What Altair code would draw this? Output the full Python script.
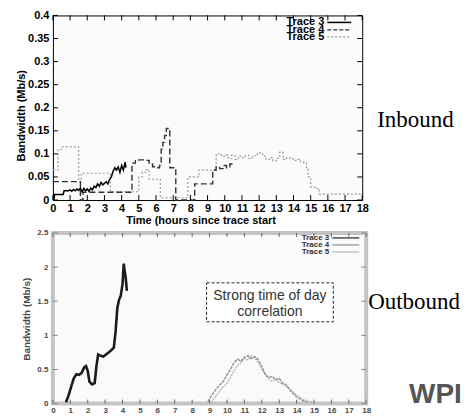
import altair as alt
import pandas as pd

# ---------------- data ----------------
hours = list(range(0, 19))
in_yticks = [0, 0.05, 0.1, 0.15, 0.2, 0.25, 0.3, 0.35, 0.4]
out_yticks = [0, 0.5, 1, 1.5, 2, 2.5]

# Inbound, Trace 3 (solid)
in3_t = [0.05, 0.1, 0.6, 0.65, 0.9, 1.0, 1.1, 1.2, 1.3, 1.4, 1.5, 1.6, 1.7, 1.8, 1.9,
         2.0, 2.1, 2.2, 2.3, 2.4, 2.5, 2.6, 2.7, 2.8, 2.9, 3.0, 3.1, 3.2, 3.3, 3.4,
         3.5, 3.6, 3.7, 3.8, 3.9, 4.0, 4.1, 4.2, 4.25]
in3_v = [0.0, 0.012, 0.012, 0.02, 0.02, 0.022, 0.019, 0.023, 0.02, 0.024, 0.021, 0.026, 0.018, 0.025, 0.02,
         0.024, 0.019, 0.026, 0.022, 0.03, 0.027, 0.035, 0.03, 0.038, 0.033, 0.036, 0.04, 0.035, 0.045, 0.05,
         0.062, 0.07, 0.065, 0.072, 0.06, 0.075, 0.065, 0.082, 0.07]

# Inbound, Trace 4 (dashed)
in4_t = [0, 1.6, 1.75, 4.6, 4.8, 5.0, 5.3, 5.6, 5.8, 6.0, 6.2, 6.3, 6.4, 6.5, 6.6, 6.7,
         6.8, 7.15, 8.25, 9.3, 9.5, 9.7, 9.9, 10.1, 10.3, 10.5]
in4_v = [0.04, 0.0, 0.017, 0.08, 0.085, 0.087, 0.086, 0.078, 0.072, 0.07, 0.075, 0.11, 0.125, 0.14, 0.155, 0.15,
         0.07, 0.0, 0.035, 0.065, 0.072, 0.068, 0.075, 0.07, 0.078, 0.075]

# Inbound, Trace 5 (dotted)
in5_t = [0, 0.3, 0.5, 1.5, 1.65, 3.35, 5.0, 5.2, 5.4, 5.6, 6.25, 7.85, 8.5, 9.5,
         9.6, 9.8, 10.0, 10.2, 10.4, 10.6, 10.8, 11.0, 11.2, 11.4, 11.6, 11.8, 12.0, 12.2,
         12.4, 12.6, 12.8, 13.0, 13.2, 13.4, 13.6, 13.8, 14.0, 14.2, 14.4, 14.6,
         14.75, 14.85, 15.0, 15.3, 15.5, 18]
in5_v = [0.065, 0.11, 0.115, 0.04, 0.058, 0.018, 0.05, 0.06, 0.066, 0.045, 0.005, 0.05, 0.065, 0.1,
         0.1, 0.095, 0.098, 0.09, 0.097, 0.088, 0.095, 0.092, 0.097, 0.09, 0.096, 0.099, 0.102, 0.095,
         0.088, 0.092, 0.085, 0.09, 0.104, 0.088, 0.092, 0.089, 0.086, 0.088, 0.083, 0.08,
         0.07, 0.05, 0.028, 0.025, 0.013, 0.013]

# Outbound, Trace 3
out3_t = [0.75, 0.9, 1.05, 1.2, 1.35, 1.5, 1.65, 1.8, 1.9, 2.0, 2.1, 2.25, 2.4, 2.5, 2.6,
          2.75, 2.9, 3.05, 3.2, 3.35, 3.5, 3.6, 3.7, 3.8, 3.9, 4.0, 4.07, 4.12, 4.18, 4.25]
out3_v = [0.02, 0.12, 0.25, 0.37, 0.43, 0.42, 0.45, 0.53, 0.55, 0.48, 0.32, 0.28, 0.3, 0.55, 0.72,
          0.7, 0.69, 0.72, 0.75, 0.78, 0.82, 1.05, 1.4, 1.52, 1.58, 1.75, 2.05, 1.95, 1.85, 1.65]

# Outbound, Trace 4
out4_t = [8.9, 9.2, 9.5, 9.8, 10.0, 10.2, 10.4, 10.6, 10.8, 11.0, 11.2, 11.4, 11.6, 11.8,
          12.0, 12.2, 12.4, 12.6, 12.8, 13.0, 13.2, 13.4, 13.6, 13.8, 14.0, 14.3, 14.6]
out4_v = [0.03, 0.15, 0.25, 0.33, 0.42, 0.5, 0.6, 0.65, 0.62, 0.68, 0.7, 0.66, 0.69, 0.64,
          0.55, 0.42, 0.38, 0.4, 0.35, 0.37, 0.3, 0.28, 0.2, 0.15, 0.1, 0.05, 0.02]

# Outbound, Trace 5
out5_t = [9.1, 9.4, 9.7, 10.0, 10.2, 10.4, 10.6, 10.8, 11.0, 11.2, 11.4, 11.6, 11.8, 12.0,
          12.2, 12.4, 12.6, 12.8, 13.0, 13.2, 13.4, 13.6, 13.8, 14.0, 14.3, 14.6, 15.0]
out5_v = [0.02, 0.12, 0.22, 0.3, 0.38, 0.48, 0.55, 0.6, 0.66, 0.64, 0.7, 0.67, 0.6, 0.5,
          0.44, 0.36, 0.33, 0.36, 0.31, 0.28, 0.25, 0.22, 0.17, 0.12, 0.07, 0.04, 0.02]

trace_labels = ["Trace 3", "Trace 4", "Trace 5"]
side_labels = ["Inbound", "Outbound"]
note_lines = ["Strong time of day", "correlation"]
x_title = "Time (hours since trace start"
y_title = "Bandwidth (Mb/s)"
logo_text = "WPI"

SANS = "Liberation Sans"
SERIF = "Liberation Serif"

W1, H1 = 310, 185
W2, H2 = 314, 171


def df(t, v):
    return pd.DataFrame({"t": t, "v": v})


def one(text):
    return pd.DataFrame({"label": [text]})


# ---------------- top (Inbound) ----------------
X1 = alt.X("t:Q", scale=alt.Scale(domain=[0, 18], nice=False, zero=False),
           axis=alt.Axis(values=hours, tickSize=0, domain=False, grid=False, format="~g",
                         labelFont=SANS, labelFontSize=11, labelFontWeight="bold",
                         labelColor="black", labelPadding=2, labelFlush=False,
                         title=x_title, titleFont=SANS, titleFontSize=11,
                         titleFontWeight="bold", titleColor="black",
                         titleX=148, titleY=21, titleBaseline="middle", titleAlign="center"))
Y1 = alt.Y("v:Q", scale=alt.Scale(domain=[0, 0.4], nice=False),
           axis=alt.Axis(values=in_yticks, tickSize=0, domain=False, grid=False, format="~g",
                         labelFont=SANS, labelFontSize=11, labelFontWeight="bold",
                         labelColor="black", labelPadding=4, labelFlush=False,
                         title=y_title, titleFont=SANS, titleFontSize=11,
                         titleFontWeight="bold", titleColor="black",
                         titleX=-31, titleY=100, titleBaseline="middle", titleAlign="center"))

top_layers = [
    alt.Chart(df(in5_t, in5_v)).mark_line(interpolate="step-after", color="#9a9a9a",
                                          strokeWidth=1.2, strokeDash=[2, 2]).encode(x=X1, y=Y1),
    alt.Chart(df(in4_t, in4_v)).mark_line(interpolate="step-after", color="#333333",
                                          strokeWidth=1.4, strokeDash=[6, 3]).encode(x=X1, y=Y1),
    alt.Chart(df(in3_t, in3_v)).mark_line(color="black", strokeWidth=1.5).encode(x=X1, y=Y1),
    # inward ticks
    alt.Chart(pd.DataFrame({"t": hours})).mark_rule(color="black").encode(
        x=X1, y=alt.value(H1), y2=alt.value(H1 - 5)),
    alt.Chart(pd.DataFrame({"t": hours})).mark_rule(color="black").encode(
        x=X1, y=alt.value(0), y2=alt.value(5)),
    alt.Chart(pd.DataFrame({"v": in_yticks})).mark_rule(color="black").encode(
        y=Y1, x=alt.value(0), x2=alt.value(5)),
    alt.Chart(pd.DataFrame({"v": in_yticks})).mark_rule(color="black").encode(
        y=Y1, x=alt.value(W1), x2=alt.value(W1 - 5)),
]

# legend (gnuplot style: label left, sample right)
leg_rows = [7, 14.5, 21.5]
leg_styles = [dict(color="black", strokeWidth=1.5),
              dict(color="#333333", strokeWidth=1.3, strokeDash=[4, 2]),
              dict(color="#9a9a9a", strokeWidth=1.2, strokeDash=[2, 2])]
for lab, yy, st in zip(trace_labels, leg_rows, leg_styles):
    top_layers.append(alt.Chart(one(lab)).mark_text(
        font=SANS, fontSize=11, fontWeight="bold", align="right", baseline="middle",
        color="black").encode(text="label:N", x=alt.value(272), y=alt.value(yy)))
    top_layers.append(alt.Chart(one(lab)).mark_rule(**st).encode(
        x=alt.value(275), x2=alt.value(299), y=alt.value(yy)))

top_layers.append(alt.Chart(one(side_labels[0])).mark_text(
    font=SERIF, fontSize=23, align="left", baseline="alphabetic", color="black").encode(
    text="label:N", x=alt.value(325), y=alt.value(112)))

top = alt.layer(*top_layers).properties(
    width=W1, height=H1,
    view=alt.ViewBackground(stroke="black", strokeWidth=1, fill="#fbfbfb"))

# ---------------- bottom (Outbound) ----------------
GRAY = "#4a4a4a"
X2 = alt.X("t:Q", scale=alt.Scale(domain=[0, 18], nice=False, zero=False),
           axis=alt.Axis(values=hours, tickSize=0, domain=False, grid=False, format="~g",
                         labelFont=SANS, labelFontSize=8, labelFontWeight="bold",
                         labelColor=GRAY, labelPadding=3, labelFlush=False,
                         title=x_title + ")", titleFont=SANS, titleFontSize=10,
                         titleFontWeight="bold", titleColor=GRAY,
                         titleX=150, titleY=17, titleBaseline="middle", titleAlign="center"))
Y2 = alt.Y("v:Q", scale=alt.Scale(domain=[0, 2.5], nice=False),
           axis=alt.Axis(values=out_yticks, tickSize=0, domain=False, grid=False, format="~g",
                         labelFont=SANS, labelFontSize=8, labelFontWeight="bold",
                         labelColor=GRAY, labelPadding=5, labelFlush=False,
                         title=y_title, titleFont=SANS, titleFontSize=10,
                         titleFontWeight="bold", titleColor=GRAY,
                         titleX=-26, titleY=86, titleBaseline="middle", titleAlign="center"))

bot_layers = [
    alt.Chart(df(out5_t, out5_v)).mark_line(color="#b5b5b5", strokeWidth=1.4,
                                            strokeDash=[2, 1]).encode(x=X2, y=Y2),
    alt.Chart(df(out4_t, out4_v)).mark_line(color="#8f8f8f", strokeWidth=1.4,
                                            strokeDash=[3, 1]).encode(x=X2, y=Y2),
    alt.Chart(df(out3_t, out3_v)).mark_line(color="#1a1a1a", strokeWidth=2.6).encode(x=X2, y=Y2),
    alt.Chart(pd.DataFrame({"t": hours})).mark_rule(color="#666666").encode(
        x=X2, y=alt.value(H2), y2=alt.value(H2 - 4)),
    alt.Chart(pd.DataFrame({"t": hours})).mark_rule(color="#666666").encode(
        x=X2, y=alt.value(0), y2=alt.value(4)),
    alt.Chart(pd.DataFrame({"v": out_yticks})).mark_rule(color="#888888").encode(
        y=Y2, x=alt.value(0), x2=alt.value(5)),
    alt.Chart(pd.DataFrame({"v": out_yticks})).mark_rule(color="#888888").encode(
        y=Y2, x=alt.value(W2), x2=alt.value(W2 - 5)),
]

leg2_rows = [5, 12, 19]
leg2_colors = ["#222222", "#8f8f8f", "#b5b5b5"]
for lab, yy, c in zip(trace_labels, leg2_rows, leg2_colors):
    bot_layers.append(alt.Chart(one(lab)).mark_text(
        font=SANS, fontSize=8, fontWeight="bold", align="right", baseline="middle",
        color="#333333").encode(text="label:N", x=alt.value(277), y=alt.value(yy)))
    bot_layers.append(alt.Chart(one(lab)).mark_rule(color=c, strokeWidth=1.2).encode(
        x=alt.value(280), x2=alt.value(307), y=alt.value(yy)))

# annotation box
bot_layers.append(alt.Chart(one(note_lines[0])).mark_rect(
    fill="white", stroke="#222222", strokeWidth=1, strokeDash=[3, 2]).encode(
    x=alt.value(154), x2=alt.value(281), y=alt.value(50), y2=alt.value(89)))
for txt, yy in zip(note_lines, [63, 79]):
    bot_layers.append(alt.Chart(one(txt)).mark_text(
        font=SANS, fontSize=14, align="center", baseline="middle", color="#333333").encode(
        text="label:N", x=alt.value(217.5), y=alt.value(yy)))

bot_layers.append(alt.Chart(one(side_labels[1])).mark_text(
    font=SERIF, fontSize=23, align="left", baseline="alphabetic", color="black").encode(
    text="label:N", x=alt.value(316), y=alt.value(76)))
bot_layers.append(alt.Chart(one(logo_text)).mark_text(
    font=SANS, fontSize=28, fontWeight="bold", align="left", baseline="alphabetic",
    color="#555555").encode(text="label:N", x=alt.value(357), y=alt.value(170)))

bottom = alt.layer(*bot_layers).properties(
    width=W2, height=H2,
    view=alt.ViewBackground(stroke="#c4c4c4", strokeWidth=4, fill="#fafafa"))

chart = alt.vconcat(top, bottom, spacing=0).configure(
    padding={"left": 7, "top": 0, "right": 0, "bottom": 0},
    background="white")

chart.save("out.html", embed_options={"renderer": "svg", "actions": False})
